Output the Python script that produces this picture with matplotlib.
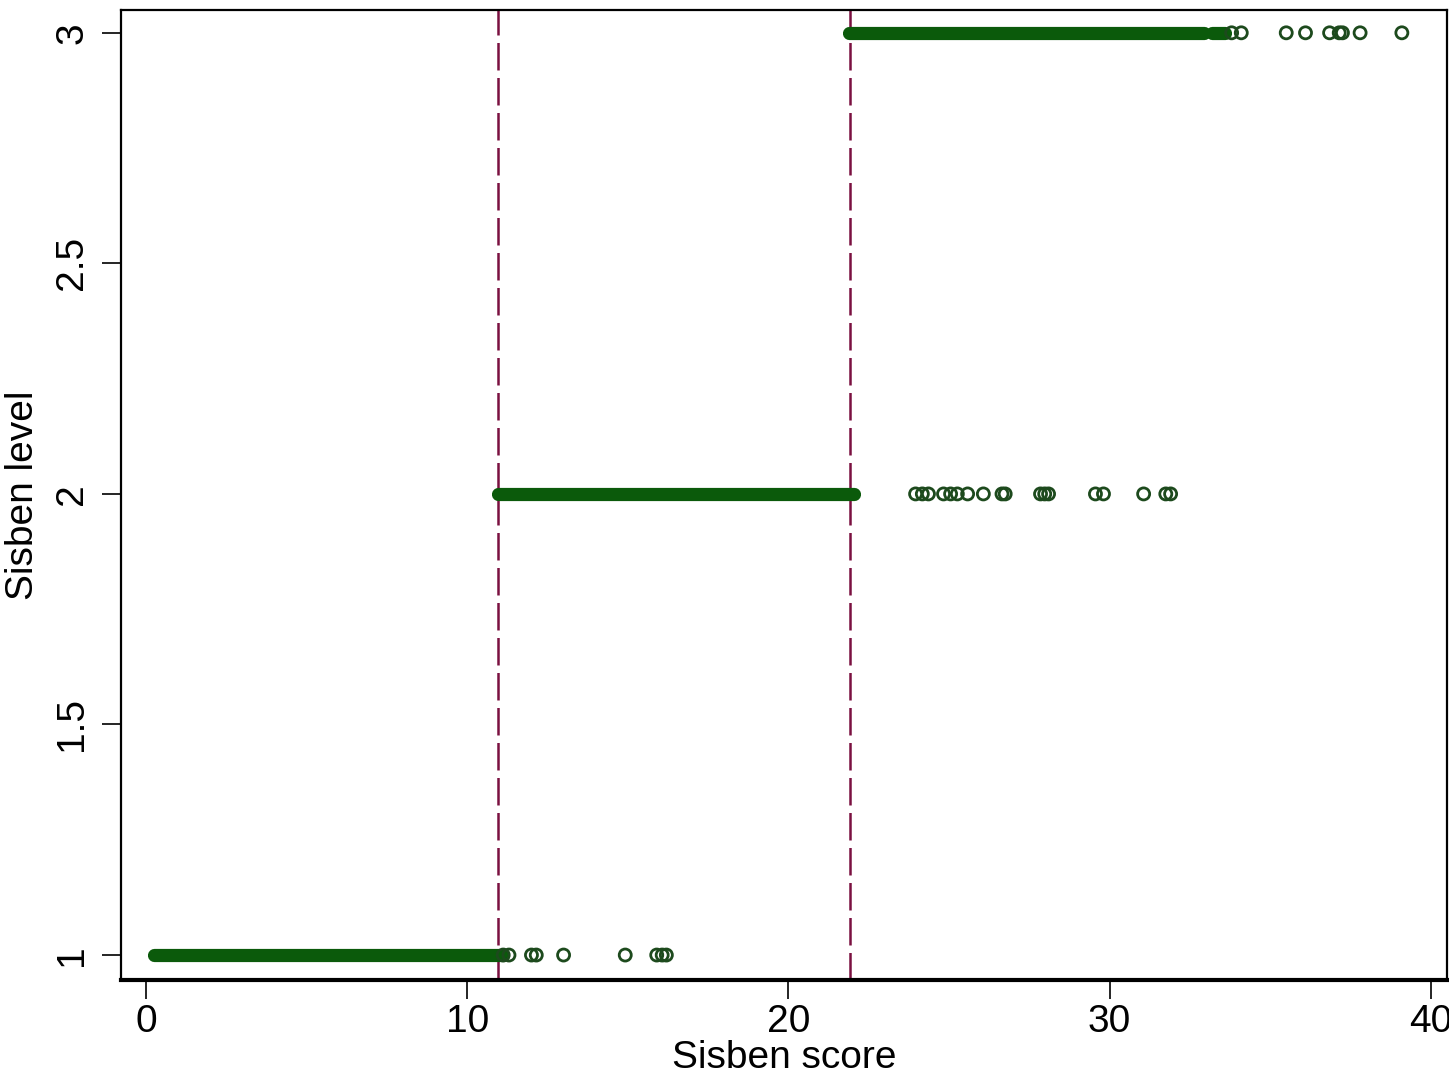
import numpy as np
import matplotlib.pyplot as plt

# dense runs of observations (score ranges that merge into solid bars)
band_level = [1, 2, 3, 3]
band_start = [0.25, 10.95, 21.9, 33.2]
band_end = [11.1, 22.05, 32.95, 33.6]

# isolated observations outside the dense runs
lvl1_x = [11.12, 11.3, 12.0, 12.15, 13.0, 14.92, 15.9, 16.07, 16.2]
lvl2_x = [23.96, 24.17, 24.36, 24.83, 25.05, 25.26, 25.58, 26.07, 26.65, 26.75,
          27.85, 27.98, 28.1, 29.56, 29.81, 31.06, 31.75, 31.9]
lvl3_x = [33.8, 34.1, 35.5, 36.1, 36.85, 37.15, 37.25, 37.8, 39.1]

cutoffs = [10.97, 21.93]

xticks = [0, 10, 20, 30, 40]
yticks = [1, 1.5, 2, 2.5, 3]

plt.rcParams['font.family'] = ['Liberation Sans Narrow', 'Liberation Sans', 'DejaVu Sans']

green = '#0b5a0b'
fig = plt.figure(figsize=(14.49, 10.84), dpi=100)
ax = fig.add_axes([0.0835, 0.096, 0.915, 0.895])

for lv, a, b in zip(band_level, band_start, band_end):
    ax.plot([a, b], [lv, lv], color=green, lw=9.5, solid_capstyle='round', zorder=3)

for lv, xs in [(1, lvl1_x), (2, lvl2_x), (3, lvl3_x)]:
    ax.scatter(xs, [lv] * len(xs), s=75, facecolors='none', edgecolors='#1d4a1d',
               linewidths=2, zorder=3)

for c in cutoffs:
    ax.axvline(c, color='#7a1040', lw=1.8, dashes=(11, 3), zorder=2)

ax.set_xlim(-0.78, 40.5)
ax.set_ylim(0.946, 3.05)
ax.set_xticks(xticks)
ax.set_yticks(yticks)
ax.set_yticklabels(['1', '1.5', '2', '2.5', '3'], rotation=90, va='center')
ax.tick_params(axis='both', labelsize=28, direction='out', length=14, width=1.2, colors='black')
ax.tick_params(axis='x', pad=3)
ax.tick_params(axis='y', pad=8)

for s in ['left', 'top', 'right']:
    ax.spines[s].set_linewidth(1.6)
ax.spines['bottom'].set_linewidth(3)

ax.set_xlabel('Sisben score', fontsize=28, labelpad=0)
ax.set_ylabel('Sisben level', fontsize=28, labelpad=10)

fig.savefig('out.png', dpi=100)
